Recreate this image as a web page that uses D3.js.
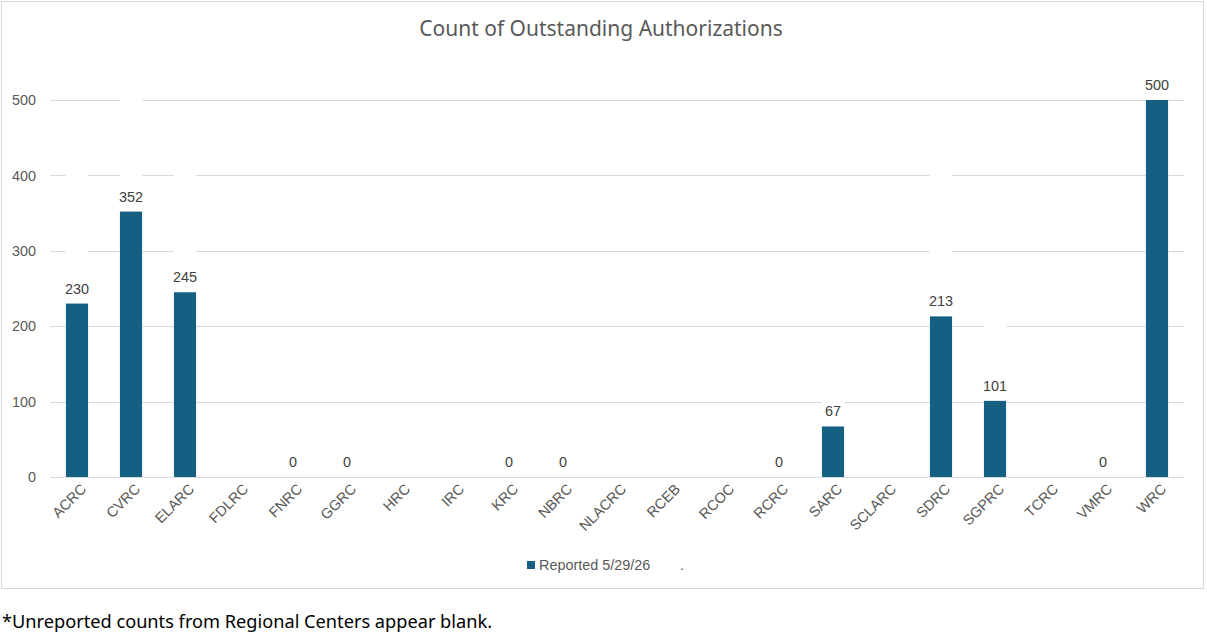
<!DOCTYPE html>
<html><head><meta charset="utf-8">
<script src="https://cdn.jsdelivr.net/npm/d3@7"></script>
<style>
body{margin:0;background:#fff;}
svg{display:block;}
</style></head>
<body>
<svg id="c" width="1207" height="637"></svg>
<script>
const categories = ["ACRC","CVRC","ELARC","FDLRC","FNRC","GGRC","HRC","IRC","KRC","NBRC","NLACRC","RCEB","RCOC","RCRC","SARC","SCLARC","SDRC","SGPRC","TCRC","VMRC","WRC"];
// null = unreported (blank)
const reported = [230,352,245,null,0,0,null,null,0,0,null,null,null,0,67,null,213,101,null,0,500];
// hidden white series named "." (only visible as gaps in the gridlines)
const hiddenSeries = [450,510,450,null,null,null,null,null,null,null,null,null,null,null,150,null,450,250,null,null,null];
const yTicks = [0,100,200,300,400,500];
const seriesNames = ["Reported 5/29/26", "."];
const title = "Count of Outstanding Authorizations";
const footnote = "*Unreported counts from Regional Centers appear blank.";

const svg = d3.select("#c");
const textCol = "#595959", gridCol = "#d9d9d9", barCol = "#156082";
const axisFont = "'Liberation Sans', Arial, sans-serif";
const titleFont = "'Noto Sans', 'Open Sans', sans-serif";
const fs = "14.4px";

// chart border
svg.append("rect").attr("x",1.5).attr("y",1.5).attr("width",1202).attr("height",587)
  .attr("fill","#fff").attr("stroke",gridCol).attr("stroke-width",1);

const pL = 50, pR = 1184, pT = 100, pB = 477;
const x = d3.scaleBand().domain(categories).range([pL,pR]).paddingInner(0.59).paddingOuter(0.295);
const y = d3.scaleLinear().domain([0,500]).range([pB,pT]);

// gridlines
svg.append("g").selectAll("line").data(yTicks).join("line")
  .attr("x1",pL).attr("x2",pR)
  .attr("y1",d=>Math.round(y(d))+0.5).attr("y2",d=>Math.round(y(d))+0.5)
  .attr("stroke",gridCol).attr("stroke-width",1);

// y axis labels
const yAxis = d3.axisLeft(y).tickValues(yTicks).tickSize(0).tickPadding(14);
const gy = svg.append("g").attr("transform",`translate(${pL},0)`).call(yAxis);
gy.select(".domain").remove();
gy.selectAll("text").attr("fill",textCol).style("font-family",axisFont).style("font-size",fs);

// hidden white series (drawn behind)
const data = categories.map((c,i)=>({c, v:reported[i], h:hiddenSeries[i]}));
svg.append("g").selectAll("rect").data(data.filter(d=>d.h!=null)).join("rect")
  .attr("x",d=>x(d.c)).attr("width",x.bandwidth())
  .attr("y",d=>y(d.h)).attr("height",d=>pB - y(d.h) - 1)
  .attr("fill","#fff");

// blue bars
svg.append("g").selectAll("rect").data(data.filter(d=>d.v!=null && d.v>0)).join("rect")
  .attr("x",d=>x(d.c)).attr("width",x.bandwidth())
  .attr("y",d=>y(d.v)).attr("height",d=>y(0)-y(d.v))
  .attr("fill",barCol);

// data labels
svg.append("g").selectAll("text").data(data.filter(d=>d.v!=null)).join("text")
  .attr("x",d=>x(d.c)+x.bandwidth()/2).attr("y",d=>y(d.v)-10)
  .attr("text-anchor","middle").attr("fill","#404040")
  .style("font-family",axisFont).style("font-size",fs)
  .text(d=>d.v);

// x axis labels
const xAxis = d3.axisBottom(x).tickSize(0).tickPadding(0);
const gx = svg.append("g").attr("transform",`translate(0,${pB})`).call(xAxis);
gx.select(".domain").remove();
gx.selectAll("text").attr("fill",textCol).style("font-family",axisFont).style("font-size",fs)
  .attr("text-anchor","end").attr("dy",null).attr("y",0)
  .attr("transform","translate(10,13) rotate(-45)");

// title
svg.append("text").attr("x",601).attr("y",36).attr("text-anchor","middle")
  .attr("fill",textCol).style("font-family",titleFont).style("font-size","21px").text(title);

// legend
const lg = svg.append("g");
lg.append("rect").attr("x",527).attr("y",561).attr("width",8).attr("height",8).attr("fill",barCol);
lg.append("text").attr("x",539).attr("y",570).attr("fill",textCol)
  .style("font-family",axisFont).style("font-size",fs).text(seriesNames[0]);
lg.append("rect").attr("x",670).attr("y",561).attr("width",8).attr("height",8).attr("fill","#fff");
lg.append("text").attr("x",680).attr("y",570).attr("fill",textCol)
  .style("font-family",axisFont).style("font-size",fs).text(seriesNames[1]);

// footnote
svg.append("text").attr("x",2).attr("y",628).attr("fill","#000")
  .style("font-family",titleFont).style("font-size","18.2px").text(footnote);
</script>
</body></html>
